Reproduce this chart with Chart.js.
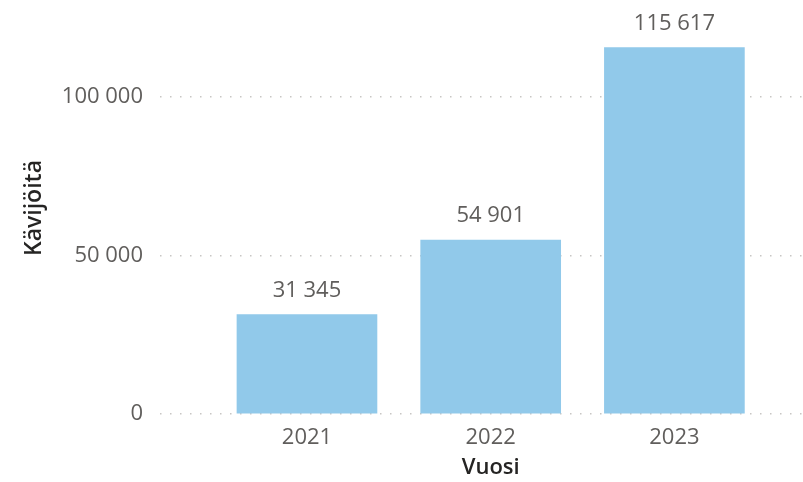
<!DOCTYPE html>
<html>
<head>
<meta charset="utf-8">
<script src="https://cdn.jsdelivr.net/npm/chart.js@4"></script>
<style>
  html, body { margin: 0; padding: 0; background: #fff; }
  #wrap { width: 803px; height: 482px; }
</style>
</head>
<body>
<div id="wrap"><canvas id="chart"></canvas></div>
<script>
const years = ['2021', '2022', '2023'];
const visitors = [31345, 54901, 115617];
const yTicks = [0, 50000, 100000];

const fmt = (v) => String(v).replace(/\B(?=(\d{3})+(?!\d))/g, ' ');
const FONT = "'Open Sans', sans-serif";

// value labels above bars + the x axis title under the middle year
const labelsPlugin = {
  id: 'labels',
  afterDatasetsDraw(chart) {
    const c = chart.ctx;
    c.save();
    c.font = `22px ${FONT}`;
    c.fillStyle = '#605E5C';
    c.textAlign = 'center';
    c.textBaseline = 'alphabetic';
    chart.getDatasetMeta(0).data.forEach((bar, i) => {
      c.fillText(fmt(visitors[i]), bar.x, bar.y - 18);
    });
    const xs = chart.scales.x;
    c.font = `600 22px ${FONT}`;
    c.fillStyle = '#252423';
    c.textBaseline = 'middle';
    c.fillText('Vuosi', xs.getPixelForValue(1), 468);
    c.restore();
  }
};

new Chart(document.getElementById('chart'), {
  type: 'bar',
  data: {
    datasets: [{
      data: visitors.map((v, i) => ({ x: i, y: v })),
      backgroundColor: '#91C9EA',
      barThickness: 140,
      borderWidth: 0
    }]
  },
  options: {
    responsive: true,
    maintainAspectRatio: false,
    animation: false,
    layout: { padding: { top: 2, bottom: 30, left: 0, right: 0 } },
    plugins: { legend: { display: false }, tooltip: { enabled: false } },
    scales: {
      x: {
        type: 'linear',
        offset: false,
        min: -0.8,
        max: 2.7,
        afterBuildTicks: (s) => { s.ticks = years.map((_, i) => ({ value: i })); },
        afterFit: (s) => { s.height = 38; s.paddingLeft = 0; s.paddingRight = 0; },
        ticks: {
          callback: (v) => years[v],
          color: '#605E5C',
          font: { family: FONT, size: 22 },
          padding: 11,
          maxRotation: 0
        },
        grid: { display: false, drawTicks: false },
        border: { display: false }
      },
      y: {
        min: 0,
        max: 130000,
        afterBuildTicks: (s) => { s.ticks = yTicks.map(v => ({ value: v })); },
        afterFit: (s) => { s.width = 160; s.paddingTop = 0; s.paddingBottom = 0; },
        ticks: {
          callback: (v) => fmt(v),
          color: '#605E5C',
          font: { family: FONT, size: 22 },
          padding: 17
        },
        grid: { color: '#C8C6C4', lineWidth: 1.5, drawTicks: false },
        border: { display: false, dash: [1.5, 8.5] },
        title: {
          display: true,
          text: 'Kävijöitä',
          color: '#252423',
          font: { family: FONT, size: 23, weight: '600' },
          padding: { top: 21, bottom: 0 }
        }
      }
    }
  },
  plugins: [labelsPlugin]
});
</script>
</body>
</html>
